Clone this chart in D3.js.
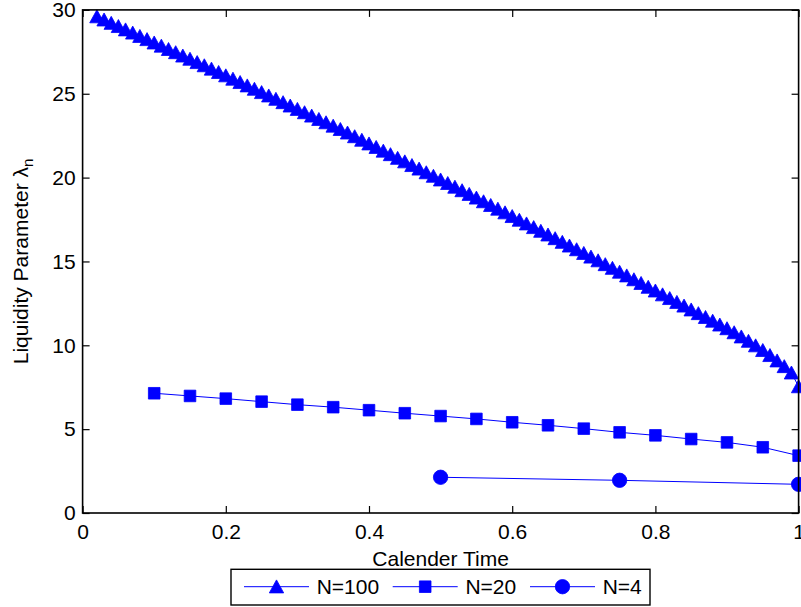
<!DOCTYPE html>
<html>
<head>
<meta charset="utf-8">
<script src="https://cdn.jsdelivr.net/npm/d3@7"></script>
<style>
  body { margin: 0; background: #fff; }
  text { font-family: "Liberation Sans", Arial, sans-serif; }
</style>
</head>
<body>
<div id="chart"></div>
<script>
// liquidity parameter, one series per N
// N=100: t = 0.02, 0.03, ... 1.00
var n100Start = 0.02, n100Step = 0.01;
var n100 = [29.60, 29.41, 29.21, 29.02, 28.82, 28.63, 28.43, 28.24, 28.04, 27.85,
            27.65, 27.46, 27.26, 27.07, 26.87, 26.68, 26.48, 26.28, 26.08, 25.88,
            25.68, 25.48, 25.28, 25.08, 24.88, 24.68, 24.48, 24.28, 24.08, 23.88,
            23.68, 23.48, 23.28, 23.08, 22.88, 22.67, 22.45, 22.24, 22.02, 21.81,
            21.59, 21.38, 21.16, 20.95, 20.73, 20.52, 20.30, 20.09, 19.87, 19.66,
            19.44, 19.23, 19.01, 18.79, 18.57, 18.35, 18.13, 17.91, 17.69, 17.47,
            17.25, 17.03, 16.81, 16.59, 16.37, 16.15, 15.93, 15.71, 15.49, 15.27,
            15.05, 14.82, 14.60, 14.37, 14.15, 13.92, 13.70, 13.47, 13.25, 13.02,
            12.80, 12.57, 12.35, 12.12, 11.90, 11.67, 11.45, 11.22, 11.00, 10.76,
            10.51, 10.25, 9.98, 9.70, 9.40, 9.08, 8.74, 8.36, 7.54];

var t20 = [0.10, 0.15, 0.20, 0.25, 0.30, 0.35, 0.40, 0.45, 0.50, 0.55,
           0.60, 0.65, 0.70, 0.75, 0.80, 0.85, 0.90, 0.95, 1.00];
var n20 = [7.14, 6.98, 6.82, 6.64, 6.46, 6.31, 6.13, 5.95, 5.78, 5.61,
           5.41, 5.23, 5.03, 4.81, 4.63, 4.41, 4.21, 3.92, 3.42];

var t4 = [0.50, 0.75, 1.00];
var n4 = [2.13, 1.95, 1.71];

var xTicks = [0, 0.2, 0.4, 0.6, 0.8, 1];
var yTicks = [0, 5, 10, 15, 20, 25, 30];
var seriesNames = ["N=100", "N=20", "N=4"];

var series = [
    {name: seriesNames[0], shape: "triangle",
     pts: n100.map(function (v, i) { return [n100Start + i * n100Step, v]; })},
    {name: seriesNames[1], shape: "square",
     pts: n20.map(function (v, i) { return [t20[i], v]; })},
    {name: seriesNames[2], shape: "circle",
     pts: n4.map(function (v, i) { return [t4[i], v]; })}
];

// set the dimensions and margins of the graph
var W = 801, H = 607;
var margin = {top: 9.9, right: 2.4, bottom: 94, left: 82.6},
    width = W - margin.left - margin.right,
    height = H - margin.top - margin.bottom;
var blue = "#0000ff";
var fs = 21;

var svg = d3.select("#chart")
    .append("svg")
    .attr("width", W)
    .attr("height", H)
    .append("g")
    .attr("transform", "translate(" + margin.left + "," + margin.top + ")");

var x = d3.scaleLinear().domain([0, 1]).range([0, width]);
var y = d3.scaleLinear().domain([0, 30]).range([height, 0]);

// markers, MATLAB style
function marker(sel, shape) {
    if (shape === "triangle") {
        sel.append("path").attr("d", "M0,-6.8L7.2,6.2L-7.2,6.2Z");
    } else if (shape === "square") {
        sel.append("path").attr("d", d3.symbol(d3.symbolSquare, 11.6 * 11.6)());
    } else {
        sel.append("circle").attr("r", 7.2);
    }
}

// Draw the lines + markers
var line = d3.line().x(function (d) { return x(d[0]); }).y(function (d) { return y(d[1]); });
series.forEach(function (s) {
    var g = svg.append("g");
    g.append("path")
        .attr("d", line(s.pts))
        .style("fill", "none")
        .style("stroke", blue)
        .style("stroke-width", 1);
    g.selectAll("g.mk")
        .data(s.pts)
        .enter().append("g")
        .attr("class", "mk")
        .attr("transform", function (d) { return "translate(" + x(d[0]) + "," + y(d[1]) + ")"; })
        .each(function () { marker(d3.select(this), s.shape); })
        .selectAll("path,circle")
        .style("fill", blue)
        .style("stroke", blue)
        .style("stroke-width", 0.8);
});

// axes: box with inward ticks on all sides
var ax = svg.append("g").attr("class", "axes");
ax.append("g")
    .attr("transform", "translate(0," + height + ")")
    .call(d3.axisBottom(x).tickValues(xTicks).tickSizeInner(-7).tickSizeOuter(0).tickPadding(11)
        .tickFormat(d3.format("")));
ax.append("g")
    .call(d3.axisLeft(y).tickValues(yTicks).tickSizeInner(-7).tickSizeOuter(0).tickPadding(7));
ax.append("g")
    .call(d3.axisTop(x).tickValues(xTicks).tickSizeInner(-7).tickSizeOuter(0).tickFormat(""));
ax.append("g")
    .attr("transform", "translate(" + width + ",0)")
    .call(d3.axisRight(y).tickValues(yTicks).tickSizeInner(-7).tickSizeOuter(0).tickFormat(""));
ax.selectAll(".domain").remove();
ax.selectAll(".tick line").style("stroke", "#000").style("stroke-width", 1.2);
ax.selectAll(".tick text").style("font-size", fs + "px").style("fill", "#000")
    .style("font-family", "'Liberation Sans', Arial, sans-serif");
ax.append("rect")
    .attr("width", width).attr("height", height)
    .style("fill", "none").style("stroke", "#000").style("stroke-width", 1.6);

// axis titles
svg.append("text")
    .attr("x", width / 2)
    .attr("y", height + 53)
    .attr("text-anchor", "middle")
    .style("font-size", fs + "px")
    .text("Calender Time");

var yl = svg.append("text")
    .attr("transform", "translate(" + (28.3 - margin.left) + "," + (height / 2) + ") rotate(-90)")
    .attr("text-anchor", "middle")
    .style("font-size", fs + "px");
yl.append("tspan").text("Liquidity Parameter \u03bb");
yl.append("tspan").attr("dy", 5).style("font-size", (fs * 0.72) + "px").text("n");

// legend (south outside, centred)
var lg = svg.append("g").attr("transform", "translate(" + (231 - margin.left) + "," + (569.3 - margin.top) + ")");
lg.append("rect").attr("width", 419).attr("height", 35.7)
    .style("fill", "#fff").style("stroke", "#000").style("stroke-width", 1.4);
var entryX = [13, 161.7, 299];
series.forEach(function (s, i) {
    var e = lg.append("g").attr("transform", "translate(" + entryX[i] + ",17.4)");
    e.append("line").attr("x1", 0).attr("x2", 65)
        .style("stroke", blue).style("stroke-width", 1);
    var m = e.append("g").attr("transform", "translate(32.5,0)");
    marker(m, s.shape);
    m.selectAll("path,circle").style("fill", blue).style("stroke", blue).style("stroke-width", 0.8);
    e.append("text").attr("x", 72.7).attr("y", 7.3)
        .style("font-size", fs + "px")
        .text(s.name);
});
</script>
</body>
</html>
